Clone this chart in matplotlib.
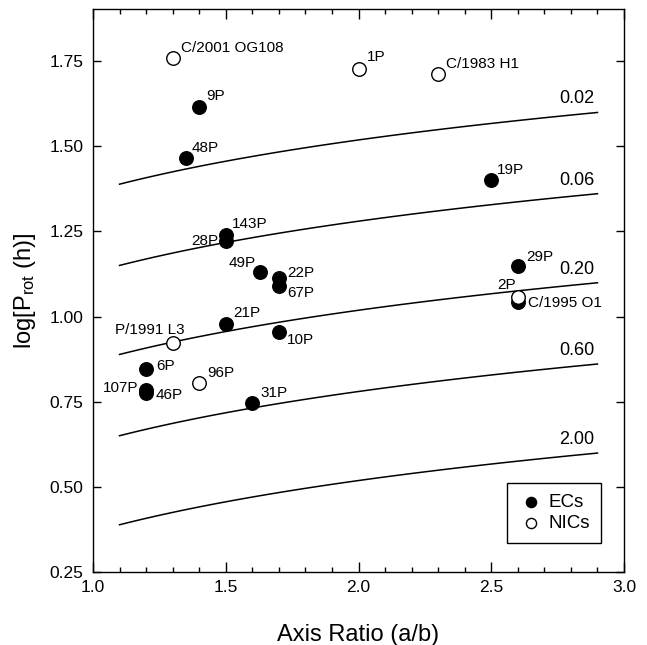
import numpy as np
import matplotlib
matplotlib.use("Agg")
import matplotlib.pyplot as plt

plt.rcParams['font.family'] = ['Liberation Sans', 'DejaVu Sans']
plt.rcParams['mathtext.fontset'] = 'custom'
plt.rcParams['mathtext.rm'] = 'Liberation Sans'
plt.rcParams['mathtext.it'] = 'Liberation Sans:italic'

# Ecliptic comets (filled)
ec_names = ["9P", "48P", "19P", "143P", "28P", "49P", "22P", "67P", "29P",
            "C/1995 O1", "21P", "10P", "6P", "107P", "46P", "31P"]
ec_ratio = [1.40, 1.35, 2.50, 1.50, 1.50, 1.63, 1.70, 1.70, 2.60,
            2.60, 1.50, 1.70, 1.20, 1.20, 1.20, 1.60]
ec_logp = [1.615, 1.465, 1.400, 1.239, 1.222, 1.130, 1.113, 1.090, 1.148,
           1.042, 0.978, 0.954, 0.846, 0.784, 0.775, 0.746]

# Nearly isotropic comets (open)
nic_names = ["C/2001 OG108", "1P", "C/1983 H1", "2P", "P/1991 L3", "96P"]
nic_ratio = [1.30, 2.00, 2.30, 2.60, 1.30, 1.40]
nic_logp = [1.759, 1.726, 1.712, 1.057, 0.922, 0.805]

# Density curves (g/cm^3): critical period P = 3.3 h * sqrt((a/b)/rho)
densities = [0.02, 0.06, 0.20, 0.60, 2.00]
density_labels = ["0.02", "0.06", "0.20", "0.60", "2.00"]
curve_x = np.linspace(1.1, 2.9, 100)

# label offsets in pixels and alignment
offsets = {
    "9P": (7, 11, 'left'), "48P": (6, 10, 'left'), "19P": (6, 10, 'left'),
    "143P": (6, 11, 'left'), "28P": (-7, 0, 'right'), "49P": (-5, 9, 'right'),
    "22P": (8, 5, 'left'), "67P": (8, -7, 'left'), "29P": (8, 9, 'left'),
    "C/1995 O1": (10, -1, 'left'), "21P": (8, 11, 'left'), "10P": (8, -8, 'left'),
    "6P": (10, 3, 'left'), "107P": (-8, 2, 'right'), "46P": (10, -2, 'left'),
    "31P": (8, 10, 'left'),
    "C/2001 OG108": (8, 10, 'left'), "1P": (8, 12, 'left'), "C/1983 H1": (8, 10, 'left'),
    "2P": (-2, 12, 'right'), "P/1991 L3": (12, 13, 'right'), "96P": (8, 10, 'left'),
}

fig = plt.figure(figsize=(6.47, 6.45), dpi=100)
ax = fig.add_axes([93/647, 1-572/645, 531/647, 563/645])

for rho, lab in zip(densities, density_labels):
    y = np.log10(3.3 * np.sqrt(curve_x / rho))
    ax.plot(curve_x, y, color='black', lw=1.1)
    ax.annotate(lab, (curve_x[-1], y[-1]), xytext=(-3, 5), textcoords='offset pixels',
                ha='right', va='bottom', fontsize=13)

ax.scatter(ec_ratio, ec_logp, s=95, facecolor='black', edgecolor='black', zorder=3, label='ECs')
ax.scatter(nic_ratio, nic_logp, s=95, facecolor='white', edgecolor='black', linewidths=1.0,
           zorder=3, label='NICs')

for names, xs, ys in [(ec_names, ec_ratio, ec_logp), (nic_names, nic_ratio, nic_logp)]:
    for n, x, y in zip(names, xs, ys):
        dx, dy, ha = offsets[n]
        ax.annotate(n, (x, y), xytext=(dx, dy), textcoords='offset pixels',
                    ha=ha, va='center', fontsize=11)

ax.set_xlim(1.0, 3.0)
ax.set_ylim(0.25, 1.903)
ax.set_xticks([1.0, 1.5, 2.0, 2.5, 3.0])
ax.set_xticks(np.arange(1.1, 3.0, 0.1), minor=True)
ax.set_yticks([0.25, 0.50, 0.75, 1.00, 1.25, 1.50, 1.75])
ax.set_yticklabels(["0.25", "0.50", "0.75", "1.00", "1.25", "1.50", "1.75"])
ax.tick_params(axis='both', which='both', direction='in', top=True, right=True, labelsize=12.5)
ax.tick_params(axis='x', which='major', length=7.5, width=1, pad=6)
ax.tick_params(axis='x', which='minor', length=3.5, width=1)
ax.tick_params(axis='y', which='major', length=6, width=1, pad=7)
for s in ax.spines.values():
    s.set_linewidth(1.0)

ax.set_xlabel("Axis Ratio (a/b)", fontsize=17, labelpad=21)
ax.set_ylabel(r"log[P$_{\rm rot}$ (h)]", fontsize=17, labelpad=8)

leg = ax.legend(loc='lower right', bbox_to_anchor=(0.957, 0.0515), borderaxespad=0,
                fontsize=13.5, fancybox=False, edgecolor='black', framealpha=1,
                handletextpad=0.3, borderpad=0.6, labelspacing=0.2, handlelength=1.3,
                markerscale=0.75)
leg.get_frame().set_linewidth(1.0)

fig.savefig("out.png", dpi=100)
